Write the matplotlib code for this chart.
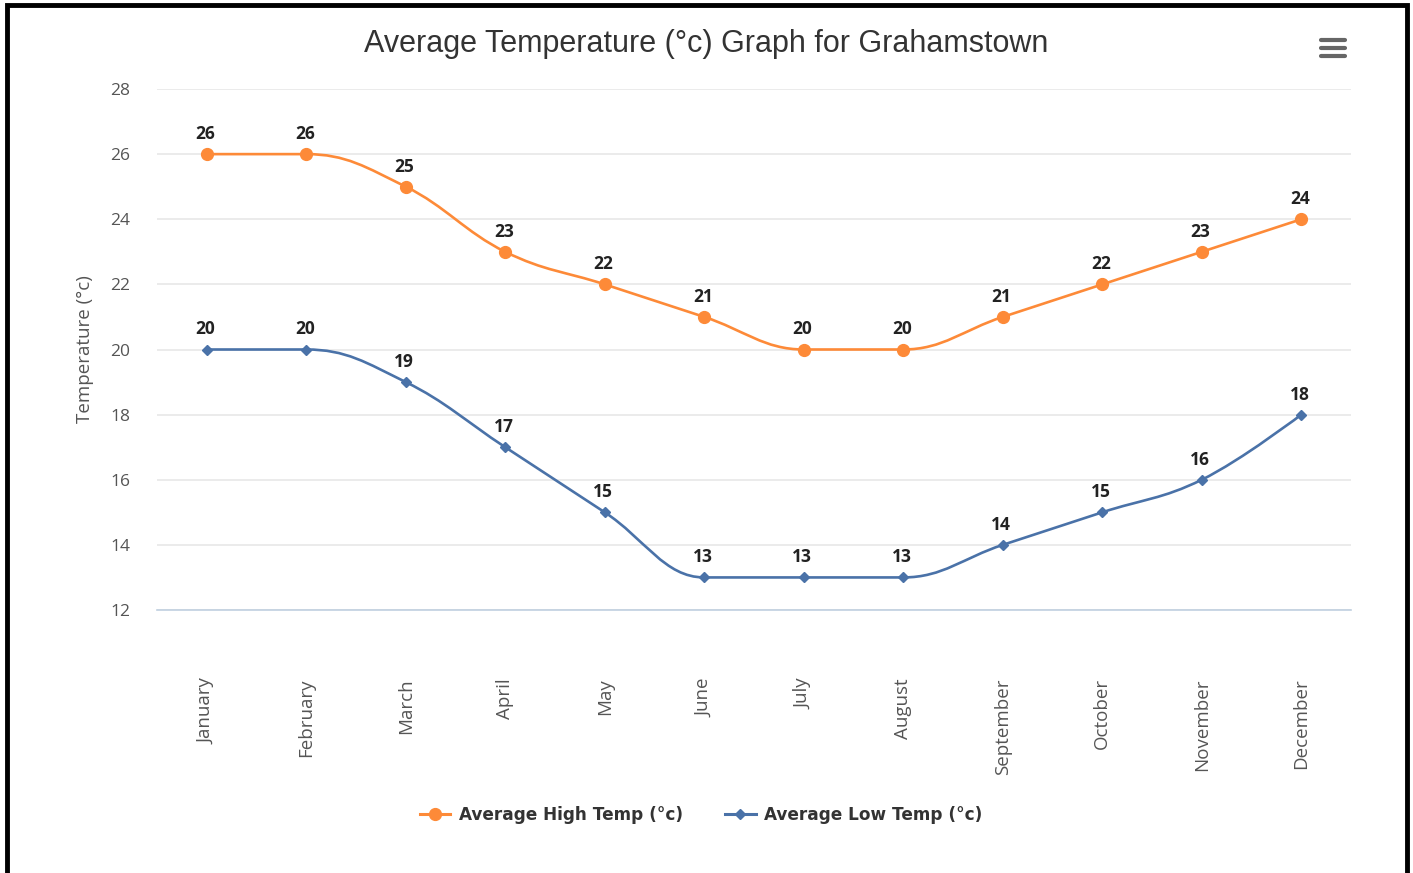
import matplotlib.pyplot as plt
from matplotlib.path import Path
from matplotlib.patches import PathPatch
from matplotlib.lines import Line2D

MONTHS = ["January", "February", "March", "April", "May", "June", "July",
          "August", "September", "October", "November", "December"]
HIGH = [26, 26, 25, 23, 22, 21, 20, 20, 21, 22, 23, 24]
LOW = [20, 20, 19, 17, 15, 13, 13, 13, 14, 15, 16, 18]
YTICKS = [12, 14, 16, 18, 20, 22, 24, 26, 28]

ORANGE = "#fd8a38"
BLUE = "#4a72a8"


def spline_path(xs, ys, smoothing=1.5):
    # highcharts style spline: bezier control points around each point
    denom = smoothing + 1
    n = len(xs)
    lc = [None] * n
    rc = [None] * n
    for i in range(1, n - 1):
        px, py = xs[i], ys[i]
        lx, ly = xs[i - 1], ys[i - 1]
        nx, ny = xs[i + 1], ys[i + 1]
        lcx = (smoothing * px + lx) / denom
        lcy = (smoothing * py + ly) / denom
        rcx = (smoothing * px + nx) / denom
        rcy = (smoothing * py + ny) / denom
        if rcx != lcx:
            corr = (rcy - lcy) * (rcx - px) / (rcx - lcx) + py - rcy
            lcy += corr
            rcy += corr
        if lcy > ly and lcy > py:
            lcy = max(ly, py)
            rcy = 2 * py - lcy
        elif lcy < ly and lcy < py:
            lcy = min(ly, py)
            rcy = 2 * py - lcy
        if rcy > ny and rcy > py:
            rcy = max(ny, py)
            lcy = 2 * py - rcy
        elif rcy < ny and rcy < py:
            rcy = min(ny, py)
            lcy = 2 * py - rcy
        lc[i] = (lcx, lcy)
        rc[i] = (rcx, rcy)
    verts = [(xs[0], ys[0])]
    codes = [Path.MOVETO]
    for i in range(1, n):
        c1 = rc[i - 1] if rc[i - 1] else (xs[i - 1], ys[i - 1])
        c2 = lc[i] if lc[i] else (xs[i], ys[i])
        verts += [c1, c2, (xs[i], ys[i])]
        codes += [Path.CURVE4] * 3
    return Path(verts, codes)


fig = plt.figure(figsize=(14.13, 8.73), dpi=100)
ax = fig.add_axes([157 / 1413, 1 - 610 / 873, (1351 - 157) / 1413, (610 - 89) / 873])

x = list(range(len(MONTHS)))
for vals, color, marker, ms in [(HIGH, ORANGE, "o", 8.5), (LOW, BLUE, "D", 5.5)]:
    ax.add_patch(PathPatch(spline_path(x, vals), facecolor="none", edgecolor=color,
                           lw=1.9, zorder=3))
    ax.plot(x, vals, ls="none", marker=marker, color=color, ms=ms, zorder=4)
    for xi, v in zip(x, vals):
        ax.annotate(str(v), (xi, v), xytext=(-1, 8), textcoords="offset points",
                    ha="center", va="bottom", fontsize=12.5, fontweight="bold",
                    color="#222222", family="Open Sans", zorder=5)

ax.set_xlim(-0.5, 11.5)
ax.set_ylim(12, 28)
ax.set_yticks(YTICKS)
ax.set_yticklabels([str(t) for t in YTICKS], family="Open Sans", fontsize=12.5, color="#555555")
ax.set_xticks(x)
ax.set_xticklabels(MONTHS, rotation=90, va="top", ha="center", family="Open Sans",
                   fontsize=13.5, color="#555555")
ax.tick_params(axis="x", length=0, pad=49)
ax.tick_params(axis="y", length=0, pad=19)
ax.grid(axis="y", color="#e8e8e8", lw=1.2)
ax.set_axisbelow(True)
for s in ["top", "right", "left"]:
    ax.spines[s].set_visible(False)
ax.spines["bottom"].set_color("#c0d0e0")
ax.spines["bottom"].set_linewidth(1.2)
ax.set_ylabel("Temperature (°c)", family="Open Sans", fontsize=13.5, color="#555555", labelpad=12)

fig.text(706 / 1413, 1 - 44 / 873, "Average Temperature (°c) Graph for Grahamstown",
         ha="center", va="center", fontsize=22, color="#333333", family="Liberation Sans")

# menu icon
for yy in [40, 48, 56]:
    fig.add_artist(Line2D([1321 / 1413, 1345 / 1413], [1 - yy / 873, 1 - yy / 873],
                          color="#666666", lw=3, solid_capstyle="round"))

handles = [Line2D([], [], color=ORANGE, marker="o", ms=8.5, lw=2.2),
           Line2D([], [], color=BLUE, marker="D", ms=5.5, lw=2.2)]
fig.legend(handles, ["Average High Temp (°c)", "Average Low Temp (°c)"],
           loc="center", bbox_to_anchor=(701 / 1413, 1 - 815 / 873), ncol=2,
           frameon=False, prop={"family": "DejaVu Sans", "weight": "bold", "size": 12.2},
           labelcolor="#333333", handlelength=1.8, columnspacing=2.5, handletextpad=0.5)

# frame: left, top, right edges only (bottom is cut off in the screenshot)
frame = [(7, 873), (7, 5), (1407, 5), (1407, 873)]
fig.add_artist(Line2D([p[0] / 1413 for p in frame], [1 - p[1] / 873 for p in frame],
                      color="black", lw=3.5, solid_joinstyle="miter"))

fig.savefig("out.png", dpi=100)
